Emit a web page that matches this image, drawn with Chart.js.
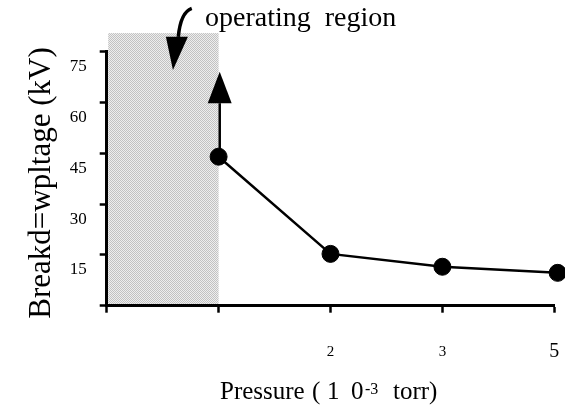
<!DOCTYPE html>
<html>
<head>
<meta charset="utf-8">
<script src="https://cdn.jsdelivr.net/npm/chart.js@4.4.1/dist/chart.umd.min.js"></script>
<style>
  html, body { margin: 0; padding: 0; background: #fff; }
  #wrap { width: 565px; height: 415px; position: relative; }
</style>
</head>
<body>
<div id="wrap"><canvas id="chart-breakdown"></canvas></div>
<script>
// pressure positions (tick index) and breakdown voltage (kV)
const pressureIdx = [1, 2, 3, 4.03];
const breakdownKV = [44, 15.3, 11.5, 9.7];
const xTickLabels = ["", "", "2", "3", "5"];
const yTickValues = [0, 15, 30, 45, 60, 75];

// shaded operating region, in axis units: [x from, x to], top in kV
const regionX = [0, 1];
const regionTop = 80.5;

// arrows, in axis units
const upArrow = { x: 1.01, from: 44, tip: 69.1, base: 59.8, half: 0.107 };
const downArrow = { tip: [0.592, 69.6], baseL: [0.529, 79.4], baseR: [0.726, 79.4],
                    start: [0.76, 87.8], ctrl: [0.66, 86.6], end: [0.64, 79.4] };

const serif = "'Liberation Serif', 'Times New Roman', serif";

function makePattern(ctx) {
    // fine stipple like the scanned grey screen
    const pc = document.createElement("canvas");
    pc.width = 2; pc.height = 2;
    const p = pc.getContext("2d");
    p.fillStyle = "#eeeeee";
    p.fillRect(0, 0, 2, 2);
    p.fillStyle = "#c2c2c2";
    p.fillRect(0, 0, 1, 1);
    p.fillRect(1, 1, 1, 1);
    return ctx.createPattern(pc, "repeat");
}

const regionPlugin = {
    id: "region",
    beforeDraw(chart) {
        const { ctx, scales: { x, y } } = chart;
        const left = x.getPixelForValue(regionX[0]) + 1.5;
        const right = x.getPixelForValue(regionX[1]);
        const top = y.getPixelForValue(regionTop);
        const bottom = y.getPixelForValue(0);
        ctx.save();
        ctx.fillStyle = makePattern(ctx);
        ctx.fillRect(left, top, right - left, bottom - top);
        ctx.restore();
    },
    afterDraw(chart) {
        const { ctx, scales: { x, y } } = chart;
        const px = (p) => [x.getPixelForValue(p[0]), y.getPixelForValue(p[1])];
        ctx.save();
        ctx.fillStyle = "#000";
        ctx.strokeStyle = "#000";

        // up arrow from first point
        const ax = x.getPixelForValue(upArrow.x);
        ctx.lineWidth = 2.5;
        ctx.beginPath();
        ctx.moveTo(ax, y.getPixelForValue(upArrow.from));
        ctx.lineTo(ax, y.getPixelForValue(upArrow.base));
        ctx.stroke();
        const hw = x.getPixelForValue(upArrow.x + upArrow.half) - ax;
        ctx.beginPath();
        ctx.moveTo(ax, y.getPixelForValue(upArrow.tip));
        ctx.lineTo(ax + hw, y.getPixelForValue(upArrow.base));
        ctx.lineTo(ax - hw, y.getPixelForValue(upArrow.base));
        ctx.closePath();
        ctx.fill();

        // curved arrow from the label
        const s = px(downArrow.start), c = px(downArrow.ctrl), e = px(downArrow.end);
        ctx.lineWidth = 3.5;
        ctx.beginPath();
        ctx.moveTo(s[0], s[1]);
        ctx.quadraticCurveTo(c[0], c[1], e[0], e[1]);
        ctx.stroke();
        const t = px(downArrow.tip), bl = px(downArrow.baseL), br = px(downArrow.baseR);
        ctx.beginPath();
        ctx.moveTo(t[0], t[1]);
        ctx.lineTo(bl[0], bl[1]);
        ctx.lineTo(br[0], br[1]);
        ctx.closePath();
        ctx.fill();

        // texts
        ctx.textBaseline = "alphabetic";
        ctx.textAlign = "left";
        ctx.font = "28px " + serif;
        ctx.fillText("operating  region", 205, 26);

        ctx.font = "25px " + serif;
        ctx.fillText("Pressure", 220, 399);
        ctx.fillText("(", 312, 399);
        ctx.fillText("1", 327, 399);
        ctx.fillText("0", 351, 399);
        ctx.fillText("torr)", 393, 399);
        ctx.font = "16px " + serif;
        ctx.fillText("-3", 365, 394);

        ctx.translate(50, 183);
        ctx.rotate(-Math.PI / 2);
        ctx.textAlign = "center";
        ctx.font = "31px " + serif;
        ctx.fillText("Breakd=wpltage (kV)", 0, 0);
        ctx.restore();
    }
};

const chartEl = document.getElementById("chart-breakdown");
new Chart(chartEl, {
    type: "scatter",
    data: {
        datasets: [
            {
                data: pressureIdx.map((v, i) => ({ x: v, y: breakdownKV[i] })),
                showLine: true,
                borderColor: "#000",
                borderWidth: 2.5,
                backgroundColor: "#000",
                pointRadius: 8.5,
                pointBorderWidth: 1,
                pointBorderColor: "#000",
                pointHoverRadius: 8.5,
                tension: 0,
                clip: false,
            },
        ],
    },
    options: {
        responsive: true,
        maintainAspectRatio: false,
        animation: false,
        events: [],
        layout: { padding: { top: 51.7, right: 10.7, left: 0, bottom: 0 } },
        plugins: { legend: { display: false }, tooltip: { enabled: false } },
        scales: {
            x: {
                type: "linear",
                min: 0,
                max: 4,
                afterFit: (scale) => {
                    scale.height = 109.3;
                    scale.paddingLeft = 0;
                    scale.paddingRight = 0;
                },
                afterBuildTicks: (scale) => {
                    scale.ticks = xTickLabels.map((_, i) => ({ value: i }));
                },
                border: { color: "#000", width: 3 },
                grid: { drawOnChartArea: false, tickLength: 7, tickWidth: 2.5, tickColor: "#000" },
                ticks: {
                    color: "#000",
                    padding: 29,
                    maxRotation: 0,
                    autoSkip: false,
                    callback: (v) => xTickLabels[v],
                    font: (ctx) => ({
                        family: serif,
                        size: ctx.tick && ctx.tick.value === 4 ? 20 : 15,
                        lineHeight: "20px",
                    }),
                },
            },
            y: {
                type: "linear",
                min: 0,
                max: 75,
                afterFit: (scale) => {
                    scale.width = 106.7;
                    scale.paddingTop = 0;
                    scale.paddingBottom = 0;
                },
                afterBuildTicks: (scale) => {
                    scale.ticks = yTickValues.map((v) => ({ value: v }));
                },
                border: { color: "#000", width: 3 },
                grid: { drawOnChartArea: false, tickLength: 7, tickWidth: 2.5, tickColor: "#000" },
                ticks: {
                    color: "#000",
                    padding: 13,
                    labelOffset: 15,
                    autoSkip: false,
                    callback: (v) => (v === 0 ? "" : String(v)),
                    font: { family: serif, size: 17 },
                },
            },
        },
    },
    plugins: [regionPlugin],
});
</script>
</body>
</html>
